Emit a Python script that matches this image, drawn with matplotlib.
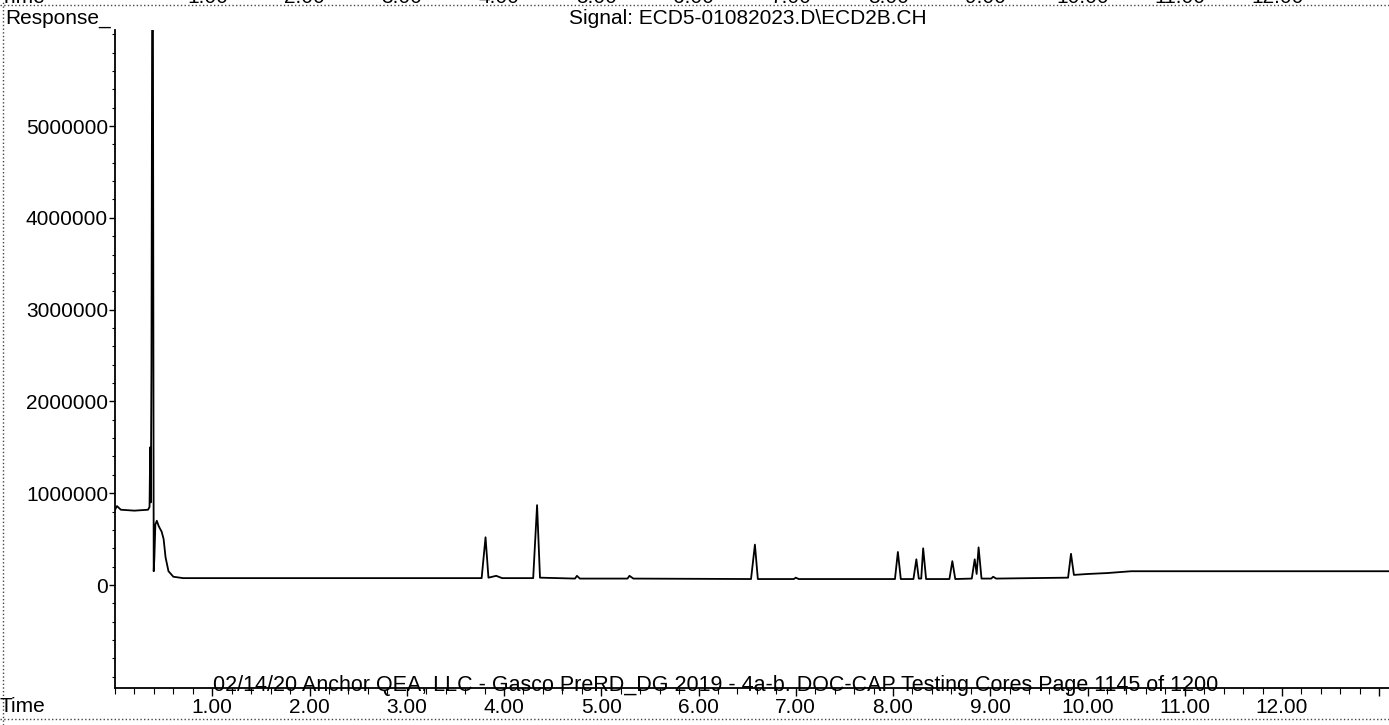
import numpy as np
import matplotlib
matplotlib.use("Agg")
from matplotlib import pyplot as plt
from matplotlib import transforms
from matplotlib.lines import Line2D
from matplotlib.ticker import MultipleLocator, FixedLocator

plt.rcParams['font.family'] = ['Liberation Sans', 'DejaVu Sans']

# trace: retention time (min), response
trace_t = [0.00, 0.02, 0.06, 0.20, 0.34, 0.355, 0.362, 0.368, 0.375, 0.382, 0.390, 0.398,
           0.405, 0.415, 0.43, 0.45, 0.48, 0.50, 0.52, 0.55, 0.60, 0.70, 1.50,
           3.77, 3.81, 3.84, 3.92, 3.98, 4.30, 4.34, 4.37, 4.73, 4.75, 4.78,
           5.27, 5.29, 5.33, 6.54, 6.58, 6.61, 6.98, 7.00, 7.03,
           8.02, 8.05, 8.08, 8.21, 8.24, 8.265, 8.29, 8.31, 8.34,
           8.58, 8.61, 8.64, 8.81, 8.84, 8.86, 8.88, 8.91, 9.01, 9.03, 9.06,
           9.80, 9.83, 9.86, 10.00, 10.20, 10.45, 10.70, 13.10]
trace_r = [0.82e6, 0.86e6, 0.82e6, 0.81e6, 0.82e6, 0.85e6, 1.50e6, 0.90e6, 2.40e6, 6.30e6, 6.30e6, 0.15e6,
           0.30e6, 0.66e6, 0.70e6, 0.64e6, 0.58e6, 0.50e6, 0.30e6, 0.15e6, 0.09e6, 0.075e6, 0.075e6,
           0.075e6, 0.52e6, 0.08e6, 0.10e6, 0.075e6, 0.075e6, 0.87e6, 0.08e6, 0.07e6, 0.10e6, 0.07e6,
           0.07e6, 0.10e6, 0.07e6, 0.065e6, 0.44e6, 0.065e6, 0.065e6, 0.08e6, 0.065e6,
           0.065e6, 0.36e6, 0.065e6, 0.065e6, 0.28e6, 0.07e6, 0.07e6, 0.40e6, 0.065e6,
           0.065e6, 0.26e6, 0.065e6, 0.07e6, 0.28e6, 0.12e6, 0.41e6, 0.07e6, 0.07e6, 0.09e6, 0.07e6,
           0.08e6, 0.34e6, 0.11e6, 0.12e6, 0.13e6, 0.15e6, 0.15e6, 0.15e6]

y_ticks = [0, 1000000, 2000000, 3000000, 4000000, 5000000]
x_ticks = list(range(1, 13))
x_labels = ["%.2f" % v for v in x_ticks]

title = "Signal: ECD5-01082023.D\\ECD2B.CH"
footer = "02/14/20 Anchor QEA, LLC - Gasco PreRD_DG 2019 - 4a-b. DOC-CAP Testing Cores Page 1145 of 1200"

W, H = 1389, 725
fig = plt.figure(figsize=(W / 100, H / 100), dpi=100)
ax = fig.add_axes([115 / W, 1 - 688 / H, (W - 115) / W, (688 - 30) / H])

ax.plot(trace_t, trace_r, color='black', lw=1.3)

ax.set_xlim(0, 13.1)
ax.set_ylim(-1.122e6, 6.046e6)
for s in ['top', 'right']:
    ax.spines[s].set_visible(False)
ax.spines['left'].set_linewidth(1.3)
ax.spines['bottom'].set_linewidth(1.3)

ax.xaxis.set_major_locator(FixedLocator(x_ticks + [13]))
ax.set_xticklabels(x_labels + [""], fontsize=15)
ax.xaxis.set_minor_locator(MultipleLocator(0.2))
ax.tick_params(axis='x', which='major', direction='out', length=6, width=1, pad=1.5)
ax.tick_params(axis='x', which='minor', direction='out', length=4, width=0.8)

ax.yaxis.set_major_locator(FixedLocator(y_ticks))
ax.set_yticklabels([str(v) for v in y_ticks], fontsize=15)
ax.yaxis.set_minor_locator(MultipleLocator(200000))
ax.tick_params(axis='y', which='major', direction='out', length=4, width=1, pad=1)
ax.tick_params(axis='y', which='minor', direction='out', length=2, width=0.8)

fig.text(5 / W, 1 - 18 / H, "Response_", fontsize=15, ha='left', va='center')
fig.text(0 / W, 1 - 707 / H, "Time", fontsize=15, ha='left', va='center')
fig.text(748 / W, 1 - 18 / H, title, fontsize=15, ha='center', va='center')
fig.text(213 / W, 1 - 686 / H, footer, fontsize=15.5, ha='left', va='center')

# cut-off axis labels of the previous chart along the top edge
tr = transforms.blended_transform_factory(ax.transData, fig.transFigure)
for v, lab in zip(x_ticks, x_labels):
    ax.text(v - 0.05, 1 + 2 / H, lab, fontsize=15, ha='center', va='center',
            transform=tr, clip_on=False)
fig.text(0, 1 + 2 / H, "Time", fontsize=15, ha='left', va='center')

# dotted scan borders
fig.add_artist(Line2D([0, 1], [1 - 5 / H, 1 - 5 / H], transform=fig.transFigure,
                      color='#444444', lw=1, ls=':'))
fig.add_artist(Line2D([0, 1], [1 - 719 / H, 1 - 719 / H], transform=fig.transFigure,
                      color='#444444', lw=1, ls=':'))
fig.add_artist(Line2D([3 / W, 3 / W], [0, 1], transform=fig.transFigure,
                      color='#444444', lw=1, ls=':'))

fig.savefig("out.png", dpi=100)
